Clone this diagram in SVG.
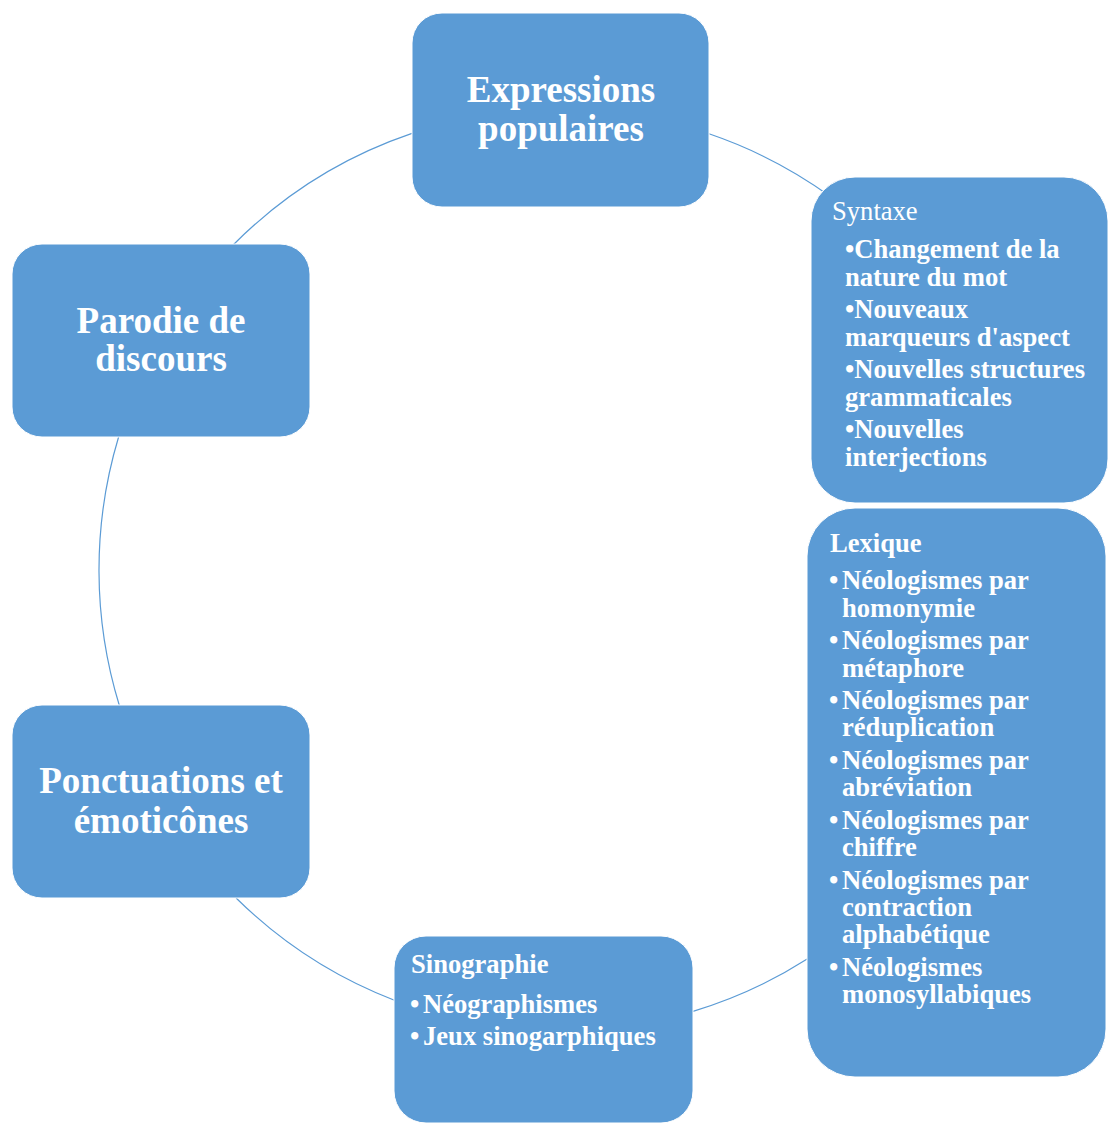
<svg xmlns="http://www.w3.org/2000/svg" width="1110" height="1124" viewBox="0 0 1110 1124">
<style>
.box{fill:#5B9BD5;stroke:#ffffff;stroke-width:1}
.arc{fill:none;stroke:#5B9BD5;stroke-width:1.2}
.t{font-family:"Liberation Serif","Times New Roman",serif;fill:#ffffff;font-weight:bold}
.big{font-size:37px;text-anchor:middle}
.sm{font-size:26.6px}
.reg{font-weight:normal}
</style>
<rect width="1110" height="1124" fill="#ffffff"/>
<g id="connectors">
<path class="arc" d="M412,133.4 A461,461 0 0 0 233.1,245"/>
<path class="arc" d="M118.6,437 A461,461 0 0 0 119.5,706"/>
<path class="arc" d="M236.1,898 A461,461 0 0 0 395,1000.5"/>
<path class="arc" d="M693,1011.4 A461,461 0 0 0 808,958.6"/>
<path class="arc" d="M709,133.8 A461,461 0 0 1 830,196.3"/>
</g>
<g id="node-expressions">
<rect class="box" x="412" y="13" width="297" height="194" rx="30"/>
<text class="t big" x="561" y="102">Expressions</text>
<text class="t big" x="561" y="141">populaires</text>
</g>
<g id="node-parodie">
<rect class="box" x="12" y="244" width="298" height="193" rx="30"/>
<text class="t big" x="161" y="333">Parodie de</text>
<text class="t big" x="161" y="371">discours</text>
</g>
<g id="node-ponctuations">
<rect class="box" x="12" y="705" width="298" height="193" rx="30"/>
<text class="t big" x="161" y="793">Ponctuations et</text>
<text class="t big" x="161" y="833">émoticônes</text>
</g>
<g id="node-syntaxe">
<rect class="box" x="811" y="177" width="297" height="326" rx="44"/>
<text class="t sm reg" x="832" y="220">Syntaxe</text>
<text class="t sm" x="845" y="258">•Changement de la</text>
<text class="t sm" x="845" y="286">nature du mot</text>
<text class="t sm" x="845" y="318">•Nouveaux</text>
<text class="t sm" x="845" y="346">marqueurs d'aspect</text>
<text class="t sm" x="845" y="378">•Nouvelles structures</text>
<text class="t sm" x="845" y="406">grammaticales</text>
<text class="t sm" x="845" y="438">•Nouvelles</text>
<text class="t sm" x="845" y="466">interjections</text>
</g>
<g id="node-lexique">
<rect class="box" x="807" y="508" width="299" height="569" rx="48"/>
<text class="t sm" x="830" y="552">Lexique</text>
<text class="t sm" x="829" y="589">•</text><text class="t sm" x="842" y="589">Néologismes par</text>
<text class="t sm" x="842" y="617">homonymie</text>
<text class="t sm" x="829" y="649">•</text><text class="t sm" x="842" y="649">Néologismes par</text>
<text class="t sm" x="842" y="677">métaphore</text>
<text class="t sm" x="829" y="709">•</text><text class="t sm" x="842" y="709">Néologismes par</text>
<text class="t sm" x="842" y="736">réduplication</text>
<text class="t sm" x="829" y="769">•</text><text class="t sm" x="842" y="769">Néologismes par</text>
<text class="t sm" x="842" y="796">abréviation</text>
<text class="t sm" x="829" y="829">•</text><text class="t sm" x="842" y="829">Néologismes par</text>
<text class="t sm" x="842" y="856">chiffre</text>
<text class="t sm" x="829" y="889">•</text><text class="t sm" x="842" y="889">Néologismes par</text>
<text class="t sm" x="842" y="916">contraction</text>
<text class="t sm" x="842" y="943">alphabétique</text>
<text class="t sm" x="829" y="976">•</text><text class="t sm" x="842" y="976">Néologismes</text>
<text class="t sm" x="842" y="1003">monosyllabiques</text>
</g>
<g id="node-sinographie">
<rect class="box" x="394" y="936" width="299" height="187" rx="32"/>
<text class="t sm" x="411" y="973">Sinographie</text>
<text class="t sm" x="410" y="1013">•</text><text class="t sm" x="423" y="1013">Néographismes</text>
<text class="t sm" x="410" y="1045">•</text><text class="t sm" x="423" y="1045">Jeux sinogarphiques</text>
</g>
</svg>
